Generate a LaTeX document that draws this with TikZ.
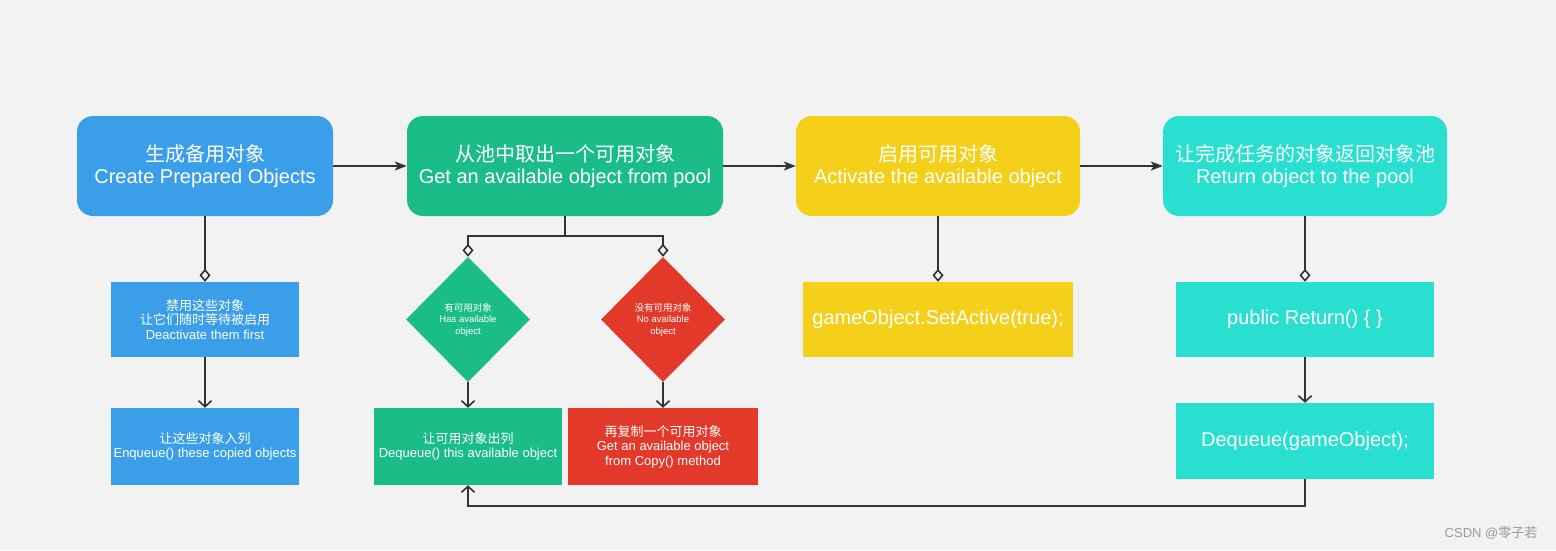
\documentclass[tikz,border=0pt]{standalone}
\usepackage{fontspec}
\setmainfont{Liberation Sans}
\newfontfamily\cjk{Noto Sans CJK SC}
\usetikzlibrary{arrows.meta,shapes.geometric}
\definecolor{bgc}{HTML}{F2F2F2}
\definecolor{cblue}{HTML}{3A9FE8}
\definecolor{cgreen}{HTML}{1ABC88}
\definecolor{cyellow}{HTML}{F4D01B}
\definecolor{ccyan}{HTML}{29E0D0}
\definecolor{cred}{HTML}{E3392B}
\definecolor{cline}{HTML}{333333}
\definecolor{cmark}{HTML}{9A9A9A}
\tikzset{
  bigbox/.style={draw=none, rounded corners=16pt, text=white, align=center, inner sep=0pt,
    minimum height=100pt, font=\fontsize{20}{23}\selectfont},
  subbox/.style={draw=none, text=white, align=center, inner sep=0pt,
    font=\fontsize{13}{14.5}\selectfont},
  codebox/.style={draw=none, text=white, align=center, inner sep=0pt,
    font=\fontsize{20}{23}\selectfont},
  decis/.style={diamond, draw=none, text=white, align=center, inner sep=0pt,
    minimum width=124pt, minimum height=125pt, font=\fontsize{9.5}{11.5}\selectfont},
  conn/.style={draw=cline, line width=1.8pt},
  mainarrow/.style={conn, -{Stealth[length=12pt,width=9pt,inset=3pt]}},
  diamondend/.style={conn, -{Diamond[open,fill=bgc,length=13pt,width=11pt,line width=1.6pt]}},
  barbend/.style={conn, -{Straight Barb[length=6pt,width=13pt,line width=1.6pt]}},
}
\begin{document}
\begin{tikzpicture}[x=1pt,y=-1pt]
\fill[bgc] (0,0) rectangle (1556,550);
\useasboundingbox (0,0) rectangle (1556,550);

% main row
\node[bigbox, fill=cblue, minimum width=256pt] (A) at (205,166)
  {{\cjk 生成备用对象}\\[-1pt]Create Prepared Objects};
\node[bigbox, fill=cgreen, minimum width=316pt] (B) at (565,166)
  {{\cjk 从池中取出一个可用对象}\\[-1pt]Get an available object from pool};
\node[bigbox, fill=cyellow, minimum width=284pt] (C) at (938,166)
  {{\cjk 启用可用对象}\\[-1pt]Activate the available object};
\node[bigbox, fill=ccyan, minimum width=284pt] (D) at (1305,166)
  {{\cjk 让完成任务的对象返回对象池}\\[-1pt]Return object to the pool};

% column A
\node[subbox, fill=cblue, minimum width=188pt, minimum height=75pt] (A1) at (205,319.5)
  {{\cjk 禁用这些对象}\\{\cjk 让它们随时等待被启用}\\Deactivate them first};
\node[subbox, fill=cblue, minimum width=188pt, minimum height=77pt] (A2) at (205,446.5)
  {{\cjk 让这些对象入列}\\Enqueue() these copied objects};

% column B
\coordinate (br) at (565,236);
\node[decis, fill=cgreen] (gd) at (468,319.5)
  {{\cjk 有可用对象}\\Has available\\object};
\node[decis, fill=cred] (rd) at (663,319.5)
  {{\cjk 没有可用对象}\\No available\\object};
\node[subbox, fill=cgreen, minimum width=188pt, minimum height=77pt] (B1) at (468,446.5)
  {{\cjk 让可用对象出列}\\Dequeue() this available object};
\node[subbox, fill=cred, minimum width=190pt, minimum height=77pt] (B2) at (663,446.5)
  {{\cjk 再复制一个可用对象}\\Get an available object\\from Copy() method};

% column C
\node[codebox, fill=cyellow, minimum width=270pt, minimum height=75pt] (C1) at (938,319.5)
  {gameObject.SetActive(true);};

% column D
\node[codebox, fill=ccyan, minimum width=258pt, minimum height=75pt] (D1) at (1305,319.5)
  {public Return() \{ \}};
\node[codebox, fill=ccyan, minimum width=258pt, minimum height=76pt] (D2) at (1305,441)
  {Dequeue(gameObject);};

% watermark
\node[text=cmark, font=\fontsize{13}{15}\selectfont, inner sep=0pt] (wm) at (1491,533)
  {CSDN @{\cjk 零子若}};

% connectors
\draw[mainarrow] (A.east) -- (B.west);
\draw[mainarrow] (B.east) -- (C.west);
\draw[mainarrow] (C.east) -- (D.west);

\draw[diamondend] (A.south) -- (A1.north);
\draw[barbend] (A1.south) -- (A2.north);

\draw[conn] (B.south) -- (br);
\draw[diamondend] (br) -| (gd.north);
\draw[diamondend] (br) -| (rd.north);
\draw[barbend] (gd.south) -- (B1.north);
\draw[barbend] (rd.south) -- (B2.north);

\draw[diamondend] (C.south) -- (C1.north);

\draw[diamondend] (D.south) -- (D1.north);
\draw[barbend] (D1.south) -- (D2.north);
\draw[barbend] (D2.south) -- ++(0,27) -| (B1.south);
\end{tikzpicture}
\end{document}
